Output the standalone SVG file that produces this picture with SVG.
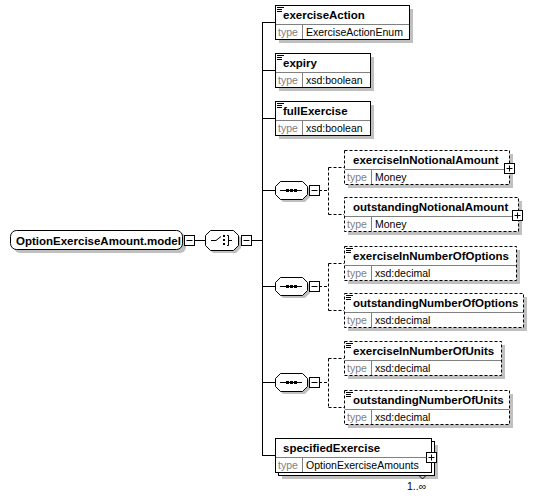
<svg xmlns="http://www.w3.org/2000/svg" width="538" height="498" viewBox="0 0 538 498">
<defs>
<style>
.sh{fill:#c0c0c0;stroke:none}
.bx{fill:#fff;stroke:#000;stroke-width:1}
.opt{stroke-dasharray:3 2}
.dv{stroke:#808080;stroke-width:1;fill:none}
.ln{stroke:#000;stroke-width:1;fill:none}
.dl{stroke:#000;stroke-width:1;fill:none;stroke-dasharray:3 2}
.nm{font-family:"Liberation Sans",Arial,sans-serif;font-weight:bold;font-size:11.5px;fill:#000}
.tl{font-family:"Liberation Sans",Arial,sans-serif;font-size:10.5px;fill:#808080}
.tv{font-family:"Liberation Sans",Arial,sans-serif;font-size:10.5px;fill:#000}
.ic{stroke:#000;stroke-width:1;fill:none}
.dot{fill:#000}
</style>
<g id="plus"><rect x="0.5" y="0.5" width="10" height="10" fill="#fff" stroke="#000"/><path d="M2.5 5.5H8.5M5.5 2.5V8.5" stroke="#000" fill="none"/></g>
<g id="minus"><rect x="0.5" y="0.5" width="10" height="10" fill="#fff" stroke="#000"/><path d="M2.5 5.5H8.5" stroke="#000" fill="none"/></g>
<g id="doc"><path d="M2 2.5H9M2 4.5H7M2 6.5H7" stroke="#000" fill="none"/></g>
<g id="seqicon"><path d="M5 9.5H27" stroke="#000" fill="none"/><rect x="11" y="8" width="3" height="3" class="dot"/><rect x="15" y="8" width="3" height="3" class="dot"/><rect x="19" y="8" width="3" height="3" class="dot"/></g>
</defs>

<g id="connectors">
<path class="ln" d="M194 240.5H205M251 240.5H262.5M262.5 22.5V455.5"/>
<path class="ln" d="M262 22.5H275M262 70.5H275M262 118.5H275M262 190.5H275M262 286.5H275M262 382.5H275M262 455.5H275"/>
<path class="dl" d="M319 190.5H328.5M328.5 167.5V214.5M328.5 167.5H344M328.5 214.5H344"/>
<path class="dl" d="M319 286.5H328.5M328.5 263.5V310.5M328.5 263.5H344M328.5 310.5H344"/>
<path class="dl" d="M319 382.5H328.5M328.5 358.5V407.5M328.5 358.5H344M328.5 407.5H344"/>
</g>

<g id="root">
<rect class="sh" x="14" y="233" width="172" height="20" rx="6"/>
<rect class="bx" x="10.5" y="230.5" width="172" height="19" rx="6"/>
<text class="nm" x="16" y="244.5">OptionExerciseAmount.model</text>
<use href="#minus" x="184" y="235"/>
</g>

<g id="choice">
<polygon class="sh" points="213,233 236,233 241,238 241,248 236,253 213,253 208,248 208,238"/>
<polygon class="bx" points="210.5,230.5 233.5,230.5 238.5,235.5 238.5,245.5 233.5,250.5 210.5,250.5 205.5,245.5 205.5,235.5"/>
<path class="ic" d="M211 240.5H216L221 236.5M227 235.5H228.5V245.5H227M228.5 240.5H232"/>
<rect class="dot" x="223" y="235" width="2" height="2"/>
<rect class="dot" x="223" y="239" width="2" height="2"/>
<rect class="dot" x="223" y="243" width="2" height="2"/>
<use href="#minus" x="241" y="235"/>
</g>

<g id="exerciseAction">
<rect class="sh" x="279" y="9" width="134" height="34"/>
<rect class="bx" x="275.5" y="5.5" width="134" height="34"/>
<path class="dv" d="M276 24.5H409M302.5 25V39"/>
<use href="#doc" x="275" y="5"/>
<text class="nm" x="283" y="19">exerciseAction</text>
<text class="tl" x="278" y="35.5">type</text>
<text class="tv" x="306" y="35.5">ExerciseActionEnum</text>
</g>

<g id="expiry">
<rect class="sh" x="279" y="57" width="95" height="34"/>
<rect class="bx" x="275.5" y="53.5" width="95" height="34"/>
<path class="dv" d="M276 72.5H370M302.5 73V87"/>
<use href="#doc" x="275" y="53"/>
<text class="nm" x="283" y="67">expiry</text>
<text class="tl" x="278" y="83.5">type</text>
<text class="tv" x="306" y="83.5">xsd:boolean</text>
</g>

<g id="fullExercise">
<rect class="sh" x="279" y="105" width="95" height="34"/>
<rect class="bx" x="275.5" y="101.5" width="95" height="34"/>
<path class="dv" d="M276 120.5H370M302.5 121V135"/>
<use href="#doc" x="275" y="101"/>
<text class="nm" x="283" y="115">fullExercise</text>
<text class="tl" x="278" y="131.5">type</text>
<text class="tv" x="306" y="131.5">xsd:boolean</text>
</g>

<g id="sequence1">
<polygon class="sh" points="283,184 305,184 310,189 310,197 305,202 283,202 278,197 278,189"/>
<polygon class="bx" points="280.5,181.5 302.5,181.5 307.5,186.5 307.5,194.5 302.5,199.5 280.5,199.5 275.5,194.5 275.5,186.5"/>
<use href="#seqicon" x="275" y="181"/>
<use href="#minus" x="309" y="185"/>
</g>

<g id="exerciseInNotionalAmount">
<rect class="sh" x="348" y="154" width="165" height="34"/>
<rect class="bx opt" x="344.5" y="150.5" width="165" height="34"/>
<path class="dv" d="M345 169.5H509M371.5 170V184"/>
<text class="nm" x="353" y="164">exerciseInNotionalAmount</text>
<text class="tl" x="347" y="180.5">type</text>
<text class="tv" x="375" y="180.5">Money</text>
<use href="#plus" x="504" y="163"/>
</g>

<g id="outstandingNotionalAmount">
<rect class="sh" x="348" y="201" width="174" height="34"/>
<rect class="bx opt" x="344.5" y="197.5" width="174" height="34"/>
<path class="dv" d="M345 216.5H518M371.5 217V231"/>
<text class="nm" x="353" y="211">outstandingNotionalAmount</text>
<text class="tl" x="347" y="227.5">type</text>
<text class="tv" x="375" y="227.5">Money</text>
<use href="#plus" x="512" y="210"/>
</g>

<g id="sequence2">
<polygon class="sh" points="283,280 305,280 310,285 310,293 305,298 283,298 278,293 278,285"/>
<polygon class="bx" points="280.5,277.5 302.5,277.5 307.5,282.5 307.5,290.5 302.5,295.5 280.5,295.5 275.5,290.5 275.5,282.5"/>
<use href="#seqicon" x="275" y="277"/>
<use href="#minus" x="309" y="281"/>
</g>

<g id="exerciseInNumberOfOptions">
<rect class="sh" x="348" y="250" width="172" height="34"/>
<rect class="bx opt" x="344.5" y="246.5" width="172" height="34"/>
<path class="dv" d="M345 265.5H516M371.5 266V280"/>
<use href="#doc" x="344" y="246"/>
<text class="nm" x="353" y="260">exerciseInNumberOfOptions</text>
<text class="tl" x="347" y="276.5">type</text>
<text class="tv" x="375" y="276.5">xsd:decimal</text>
</g>

<g id="outstandingNumberOfOptions">
<rect class="sh" x="348" y="297" width="179" height="34"/>
<rect class="bx opt" x="344.5" y="293.5" width="179" height="34"/>
<path class="dv" d="M345 312.5H523M371.5 313V327"/>
<use href="#doc" x="344" y="293"/>
<text class="nm" x="353" y="307">outstandingNumberOfOptions</text>
<text class="tl" x="347" y="323.5">type</text>
<text class="tv" x="375" y="323.5">xsd:decimal</text>
</g>

<g id="sequence3">
<polygon class="sh" points="283,376 305,376 310,381 310,389 305,394 283,394 278,389 278,381"/>
<polygon class="bx" points="280.5,373.5 302.5,373.5 307.5,378.5 307.5,386.5 302.5,391.5 280.5,391.5 275.5,386.5 275.5,378.5"/>
<use href="#seqicon" x="275" y="373"/>
<use href="#minus" x="309" y="377"/>
</g>

<g id="exerciseInNumberOfUnits">
<rect class="sh" x="348" y="345" width="157" height="34"/>
<rect class="bx opt" x="344.5" y="341.5" width="157" height="34"/>
<path class="dv" d="M345 360.5H501M371.5 361V375"/>
<use href="#doc" x="344" y="341"/>
<text class="nm" x="353" y="355">exerciseInNumberOfUnits</text>
<text class="tl" x="347" y="371.5">type</text>
<text class="tv" x="375" y="371.5">xsd:decimal</text>
</g>

<g id="outstandingNumberOfUnits">
<rect class="sh" x="348" y="394" width="165" height="34"/>
<rect class="bx opt" x="344.5" y="390.5" width="165" height="34"/>
<path class="dv" d="M345 409.5H509M371.5 410V424"/>
<use href="#doc" x="344" y="390"/>
<text class="nm" x="353" y="404">outstandingNumberOfUnits</text>
<text class="tl" x="347" y="420.5">type</text>
<text class="tv" x="375" y="420.5">xsd:decimal</text>
</g>

<g id="specifiedExercise">
<rect class="sh" x="282" y="445" width="156" height="34"/>
<rect class="bx" x="278.5" y="441.5" width="156" height="34"/>
<rect class="bx" x="275.5" y="438.5" width="156" height="34"/>
<path class="dv" d="M276 457.5H431M302.5 458V472"/>
<text class="nm" x="283" y="452">specifiedExercise</text>
<text class="tl" x="278" y="468.5">type</text>
<text class="tv" x="306" y="468.5">OptionExerciseAmounts</text>
<use href="#plus" x="426" y="452"/>
<path class="ln" d="M419 475.5L422.5 479L426 475.5"/>
<text class="tv" x="407" y="490">1..∞</text>
</g>
</svg>
